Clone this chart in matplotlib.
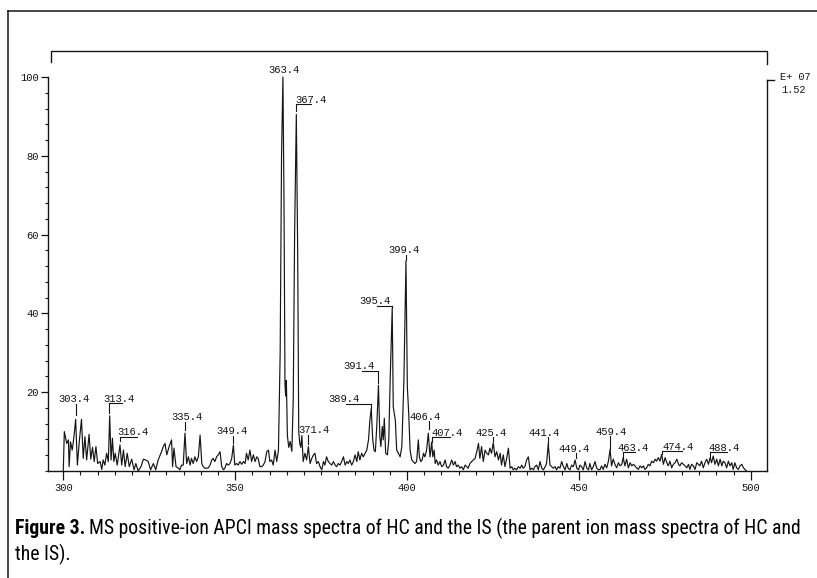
import matplotlib
matplotlib.use("Agg")
import matplotlib.pyplot as plt
from matplotlib import font_manager
from matplotlib.lines import Line2D
from matplotlib.ticker import MultipleLocator

# MS positive-ion APCI spectrum (m/z, relative abundance %)
mz = [
    300.0, 300.3, 301.0, 301.5, 301.7, 302.1, 302.6, 303.1, 303.6, 304.1,
    304.7, 305.3, 305.8, 306.3, 306.8, 307.5, 308.0, 308.5, 309.0, 309.5,
    310.0, 310.7, 311.2, 311.6, 312.1, 312.6, 313.1, 313.5, 313.9, 314.3,
    314.7, 315.1, 315.7, 316.5, 317.0, 317.5, 318.0, 318.6, 319.2, 319.9,
    320.6, 321.1, 321.8, 322.6, 323.3, 324.0, 324.7, 325.4, 326.2, 326.9,
    327.6, 328.4, 329.1, 329.6, 330.1, 330.8, 331.5, 331.8, 332.2, 332.8,
    333.5, 333.9, 334.4, 334.9, 335.4, 335.9, 336.4, 336.9, 337.3, 337.8,
    338.3, 338.8, 339.3, 339.8, 340.3, 340.7, 341.2, 341.7, 342.2, 342.7,
    343.2, 343.6, 344.1, 344.6, 345.1, 345.6, 346.1, 346.6, 347.0, 347.5,
    348.0, 348.5, 349.0, 349.5, 349.9, 350.4, 350.9, 351.4, 351.9, 352.4,
    352.9, 353.3, 353.8, 354.3, 354.8, 355.3, 355.8, 356.3, 356.7, 357.2,
    357.7, 358.2, 358.7, 359.2, 359.7, 360.1, 360.6, 361.1, 361.6, 362.1,
    362.6, 363.1, 363.5, 363.9, 364.2, 364.5, 364.7, 364.9, 365.2, 365.6,
    366.0, 366.5, 366.9, 367.3, 367.8, 368.2, 368.5, 368.8, 369.1, 369.4,
    369.8, 370.3, 370.8, 371.3, 371.8, 372.3, 372.8, 373.2, 373.7, 374.2,
    374.7, 375.2, 375.7, 376.1, 376.6, 377.1, 377.6, 378.1, 378.6, 379.1,
    379.5, 380.0, 380.5, 381.0, 381.5, 382.0, 382.5, 382.9, 383.4, 383.9,
    384.4, 384.9, 385.4, 385.8, 386.3, 386.8, 387.3, 387.8, 388.3, 388.8,
    389.2, 389.6, 390.0, 390.4, 390.8, 391.2, 391.7, 392.1, 392.4, 392.8,
    393.1, 393.4, 393.8, 394.3, 394.7, 395.1, 395.7, 396.0, 396.3, 396.6,
    397.0, 397.5, 398.0, 398.5, 399.1, 399.7, 400.1, 400.5, 400.9, 401.4,
    401.8, 402.3, 402.8, 403.3, 403.6, 404.0, 404.4, 404.8, 405.2, 405.7,
    406.2, 406.7, 407.2, 407.5, 407.9, 408.2, 408.6, 409.1, 409.6, 410.1,
    410.6, 411.1, 411.5, 412.0, 412.5, 413.0, 413.5, 414.0, 414.4, 414.9,
    415.4, 415.9, 416.4, 416.9, 417.4, 417.8, 418.3, 418.8, 419.3, 419.8,
    420.3, 420.8, 421.2, 421.7, 422.2, 422.7, 423.2, 423.7, 424.1, 424.6,
    425.1, 425.6, 426.1, 426.6, 427.1, 427.5, 428.0, 428.5, 429.0, 429.5,
    430.0, 430.5, 430.9, 431.4, 431.9, 432.4, 432.9, 433.4, 433.8, 434.3,
    434.8, 435.3, 435.8, 436.3, 436.8, 437.2, 437.7, 438.2, 438.7, 439.2,
    439.7, 440.2, 440.6, 441.1, 441.6, 442.1, 442.6, 443.1, 443.5, 444.0,
    444.5, 445.0, 445.5, 446.0, 446.5, 446.9, 447.4, 447.9, 448.4, 448.9,
    449.4, 449.9, 450.3, 450.8, 451.3, 451.8, 452.3, 452.8, 453.2, 453.7,
    454.2, 454.7, 455.2, 455.7, 456.2, 456.6, 457.1, 457.6, 458.1, 458.6,
    459.1, 459.5, 460.0, 460.5, 461.0, 461.5, 462.0, 462.5, 462.9, 463.4,
    463.9, 464.4, 464.9, 465.4, 465.9, 466.3, 466.8, 467.3, 467.8, 468.3,
    468.8, 469.2, 469.7, 470.2, 470.7, 471.2, 471.7, 472.2, 472.6, 473.1,
    473.6, 474.1, 474.6, 475.1, 475.6, 476.0, 476.5, 477.0, 477.5, 478.0,
    478.5, 479.0, 479.4, 479.9, 480.4, 480.9, 481.4, 481.9, 482.3, 482.8,
    483.3, 483.8, 484.3, 484.8, 485.2, 485.7, 486.2, 486.7, 487.2, 487.7,
    488.2, 488.6, 489.1, 489.6, 490.1, 490.6, 491.1, 491.6, 492.0, 492.5,
    493.0, 493.5, 494.0, 494.5, 494.9, 495.4, 495.9, 496.4, 496.9, 497.4,
    497.9, 498.3, 498.8,
]
intensity = [
    0.0, 10.0, 7.0, 7.9, 1.1, 7.4, 5.3, 8.7, 13.1, 1.5,
    7.9, 13.1, 3.2, 8.7, 2.8, 9.3, 3.0, 6.0, 2.4, 6.2,
    1.9, 2.4, 0.4, 2.8, 1.5, 4.5, 2.4, 14.0, 2.8, 8.3,
    2.4, 4.5, 1.5, 6.6, 1.5, 5.3, 1.1, 4.5, 1.1, 3.0,
    0.3, 1.9, 0.0, 1.1, 3.0, 2.8, 2.4, 0.3, 1.9, 0.3,
    2.8, 4.5, 6.2, 7.0, 4.1, 6.2, 7.9, 1.1, 5.8, 1.1,
    0.7, 0.3, 1.5, 1.5, 9.6, 1.9, 3.6, 1.5, 3.2, 1.9,
    3.6, 2.4, 3.6, 9.1, 1.9, 1.1, 0.7, 0.7, 0.8, 1.5,
    2.8, 3.2, 2.4, 3.6, 4.1, 4.9, 1.1, 0.3, 0.7, 1.9,
    1.5, 1.9, 3.2, 6.6, 1.5, 1.9, 1.5, 2.4, 1.7, 2.4,
    1.9, 4.5, 2.8, 5.3, 2.4, 4.1, 2.4, 3.6, 3.2, 1.1,
    1.1, 1.5, 2.4, 4.9, 5.3, 2.4, 2.8, 1.5, 5.3, 2.4,
    5.3, 30.0, 80.0, 100.0, 70.0, 22.0, 19.0, 23.0, 9.0, 6.0,
    7.5, 5.0, 18.0, 60.0, 90.5, 55.0, 10.0, 7.0, 6.0, 9.0,
    2.4, 4.5, 2.8, 6.2, 1.9, 3.2, 4.1, 4.5, 1.9, 2.4,
    1.1, 0.3, 2.4, 1.5, 3.6, 2.4, 1.9, 1.5, 2.4, 1.5,
    1.1, 1.9, 1.5, 2.4, 3.6, 1.5, 2.4, 1.9, 2.8, 1.5,
    2.4, 4.1, 2.4, 4.9, 2.8, 4.5, 3.6, 4.5, 5.3, 7.9,
    12.9, 15.9, 8.3, 5.3, 4.9, 11.3, 21.8, 8.7, 6.2, 11.3,
    7.9, 13.4, 4.5, 4.1, 7.9, 23.1, 41.3, 16.3, 14.6, 12.9,
    5.3, 4.5, 3.6, 6.2, 23.1, 53.3, 21.4, 14.6, 5.3, 2.8,
    2.4, 1.9, 2.4, 7.9, 3.6, 2.4, 2.8, 4.5, 3.6, 5.3,
    9.6, 3.6, 7.4, 3.6, 5.3, 1.9, 2.8, 1.5, 2.4, 1.1,
    1.5, 2.8, 1.1, 0.7, 1.5, 2.8, 1.5, 2.4, 1.1, 1.5,
    0.7, 1.1, 0.3, 1.5, 1.1, 0.7, 1.9, 2.4, 2.8, 3.2,
    4.9, 7.0, 3.2, 6.2, 2.4, 5.3, 4.5, 4.1, 5.8, 4.5,
    7.2, 3.6, 4.9, 2.8, 4.5, 1.5, 4.1, 1.1, 3.2, 5.8,
    0.7, 1.1, 0.3, 0.7, 0.3, 1.1, 0.7, 1.5, 0.7, 1.1,
    2.8, 3.6, 0.3, 0.7, 0.3, 1.1, 1.5, 0.3, 2.4, 0.7,
    0.3, 1.1, 1.9, 6.9, 1.5, 1.1, 0.7, 1.1, 0.3, 1.1,
    0.7, 2.4, 1.1, 0.3, 1.9, 0.7, 0.3, 1.5, 1.1, 2.8,
    0.7, 0.3, 1.5, 1.1, 0.3, 2.4, 0.7, 0.3, 1.9, 0.3,
    1.1, 2.4, 0.7, 0.3, 0.4, 1.3, 0.4, 1.7, 0.8, 2.5,
    5.5, 1.3, 3.0, 1.7, 0.8, 2.1, 1.3, 1.7, 3.4, 1.3,
    3.0, 0.8, 2.1, 1.3, 1.7, 1.3, 0.8, 0.4, 1.3, 0.8,
    1.3, 0.4, 0.8, 1.7, 1.3, 2.5, 2.1, 3.0, 2.5, 3.4,
    2.5, 4.2, 1.7, 3.4, 2.1, 1.3, 2.5, 0.8, 1.7, 2.1,
    3.0, 1.7, 1.3, 2.1, 1.7, 1.3, 0.8, 1.7, 0.4, 1.7,
    1.3, 0.4, 2.1, 1.7, 1.3, 2.5, 0.8, 2.1, 3.0, 1.7,
    3.4, 2.1, 3.8, 1.7, 3.0, 1.3, 3.0, 1.3, 2.5, 2.1,
    0.8, 2.5, 1.3, 2.1, 0.4, 2.1, 0.8, 0.4, 1.3, 1.7,
    0.8, 0.4, 0.0,
]

# peak labels: text, m/z of the leader, leader foot, shelf height, text centre, underline
label_text = ["303.4", "313.4", "316.4", "335.4", "349.4", "363.4", "367.4",
              "371.4", "389.4", "391.4", "395.4", "399.4", "406.4", "407.4",
              "425.4", "441.4", "449.4", "459.4", "463.4", "474.4", "488.4"]
label_peak = [303.6, 313.4, 316.5, 335.4, 349.5, 363.9, 367.8,
              371.3, 389.6, 391.7, 395.7, 399.7, 406.3, 407.2,
              425.1, 441.0, 449.2, 459.1, 462.9, 474.1, 488.2]
label_foot = [14.2, 14.7, 7.7, 10.4, 7.0, 100.6, 91.3,
              6.8, 15.9, 22.3, 41.3, 53.6, 10.6, 7.4,
              7.7, 6.9, 3.4, 5.5, 3.4, 4.2, 3.4]
label_shelf = [17.0, 17.2, 8.7, 12.5, 9.0, 100.6, 93.1,
               9.2, 17.0, 25.5, 41.9, 54.9, 12.6, 8.6,
               8.6, 8.6, 4.5, 8.8, 4.8, 5.0, 4.8]
label_center = [303.2, 316.2, 320.4, 335.9, 349.0, 364.1, 372.1,
                373.0, 381.7, 386.1, 390.8, 399.05, 405.3, 411.8,
                424.6, 440.0, 448.7, 459.5, 465.7, 479.0, 492.4]
label_under = [None, (313.4, 317.0), (316.5, 321.4), None, None, None, (367.8, 372.2),
               None, (382.2, 389.6), (386.8, 391.7), (391.2, 395.7), None, None, (407.2, 412.5),
               None, None, None, None, (462.9, 466.3), (474.1, 479.9), (488.2, 493.0)]

x_ticks = [300, 350, 400, 450, 500]
y_ticks = [20, 40, 60, 80, 100]
scale_text = ["E+ 07", "1.52"]
caption_bold = "Figure 3."
caption_line1 = "MS positive-ion APCI mass spectra of HC and the IS (the parent ion mass spectra of HC and"
caption_line2 = "the IS)."


def pick_font(names):
    for n in names:
        try:
            font_manager.findfont(font_manager.FontProperties(family=n),
                                  fallback_to_default=False)
            return n
        except ValueError:
            continue
    return "DejaVu Sans"


def main():
    W, H = 817, 578
    mono = pick_font(["Liberation Mono", "DejaVu Sans Mono"])
    cap_font = pick_font(["Liberation Sans Narrow", "Roboto Condensed",
                          "DejaVu Sans Condensed", "Liberation Sans"])
    ink = "#151515"

    fig = plt.figure(figsize=(W / 100, H / 100), dpi=100)
    fig.patch.set_facecolor("white")

    # outer frame (left + top only)
    fig.add_artist(Line2D([7.5 / W, 7.5 / W], [0, 1 - 11 / H], transform=fig.transFigure,
                          color=ink, lw=1.1))
    fig.add_artist(Line2D([7.5 / W, 1], [1 - 11 / H, 1 - 11 / H], transform=fig.transFigure,
                          color=ink, lw=1.1))

    ax = fig.add_axes([48.3 / W, 1 - 471 / H, (767 - 48.3) / W, (471 - 77) / H])
    ax.plot(mz, intensity, color=ink, lw=0.85, clip_on=False)
    ax.set_xlim(295.64, 504.74)
    ax.set_ylim(0, 100)

    for s in ["left", "right", "bottom"]:
        ax.spines[s].set_linewidth(1.0)
        ax.spines[s].set_color(ink)
    ax.spines["top"].set_visible(False)
    ax.spines["left"].set_bounds(0, 100)
    ax.spines["right"].set_bounds(0, 99.3)

    ax.set_xticks(x_ticks)
    ax.set_yticks(y_ticks)
    ax.xaxis.set_minor_locator(MultipleLocator(5))
    ax.yaxis.set_minor_locator(MultipleLocator(4))
    ax.tick_params(axis="x", which="major", direction="out", length=6.5, width=0.9,
                   pad=2, labelsize=7.6, colors=ink)
    ax.tick_params(axis="x", which="minor", direction="out", length=3, width=0.8, colors=ink)
    ax.tick_params(axis="y", which="major", direction="out", length=5, width=0.9,
                   pad=2, labelsize=7.6, colors=ink)
    ax.tick_params(axis="y", which="minor", direction="out", length=2.2, width=0.8, colors=ink)
    for lab in ax.get_xticklabels() + ax.get_yticklabels():
        lab.set_family(mono)

    # bracket above the plot, plus the tick at the top of the right axis
    ax.plot([296.5, 296.5, 504.7, 504.7], [103.8, 106.6, 106.6, 103.3],
            color=ink, lw=1.0, clip_on=False)
    ax.plot([504.74, 506.8], [99.3, 99.3], color=ink, lw=1.0, clip_on=False)
    ax.text(508.5, 100.0, scale_text[0], family=mono, fontsize=7.4, color=ink,
            ha="left", va="center")
    ax.text(509.0, 96.8, scale_text[1], family=mono, fontsize=7.4, color=ink,
            ha="left", va="center")

    # peak annotations
    for i, txt in enumerate(label_text):
        p = label_peak[i]
        if label_shelf[i] > label_foot[i]:
            ax.plot([p, p], [label_foot[i], label_shelf[i]], color=ink, lw=0.8, clip_on=False)
        if label_under[i] is not None:
            u0, u1 = label_under[i]
            ax.plot([u0, u1], [label_shelf[i], label_shelf[i]], color=ink, lw=0.8,
                    clip_on=False)
        ax.text(label_center[i], label_shelf[i] + 0.4, txt, family=mono, fontsize=7.6,
                color=ink, ha="center", va="baseline", clip_on=False)

    # caption, sized to the width of the printed one
    y1 = 1 - 534 / H
    y2 = 1 - 560 / H
    size = 12
    t_bold = fig.text(15 / W, y1, caption_bold, family=cap_font, fontweight="bold",
                      fontsize=size, va="baseline", color="black")
    t_rest = fig.text(0.2, y1, caption_line1, family=cap_font, fontsize=size,
                      va="baseline", color="black")
    t_two = fig.text(15 / W, y2, caption_line2, family=cap_font, fontsize=size,
                     va="baseline", color="black")
    fig.canvas.draw()
    r = fig.canvas.get_renderer()
    gap = 4
    wb = t_bold.get_window_extent(r).width
    wr = t_rest.get_window_extent(r).width
    k = (803 - 15 - gap) / (wb + wr)
    for t in (t_bold, t_rest, t_two):
        t.set_fontsize(size * k)
    fig.canvas.draw()
    wb = t_bold.get_window_extent(r).width
    t_rest.set_x((15 + wb + gap) / W)

    fig.savefig("out.png", dpi=100, facecolor="white")
    plt.close(fig)


if __name__ == "__main__":
    main()
